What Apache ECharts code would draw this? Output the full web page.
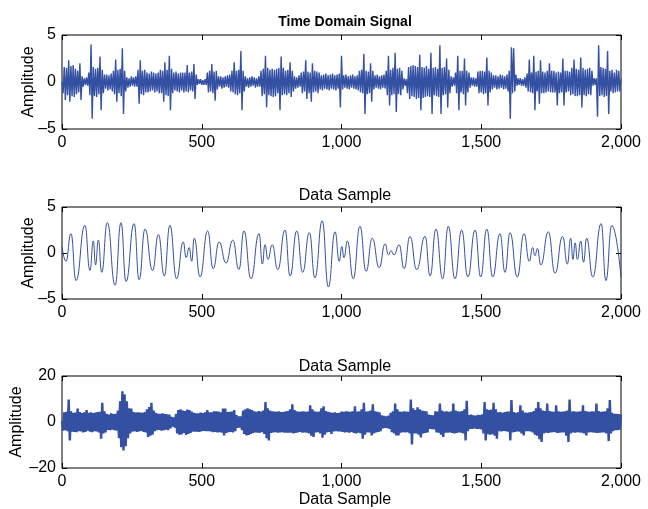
<!DOCTYPE html>
<html>
<head>
<meta charset="utf-8">
<script src="https://cdn.jsdelivr.net/npm/echarts@6/dist/echarts.min.js"></script>
<style>
html,body{margin:0;padding:0;background:#fff;}
#chart{width:648px;height:509px;}
</style>
</head>
<body>
<div id="chart"></div>
<script>
// top and bottom panels are read every 4th sample
var sampleStep = 4;

// top panel: time domain signal (bursty)
var timeSignal = [
  0, -1.2, 1.6, -1.9, 1.5, -1.4, 2.3, -2.1, 1.7, -1.5,
  1.8, -1.6, 1.4, -1.3, 1.2, -1.1, 2.0, -1.9, 0.6, -0.5,
  0.4, -0.3, 0.5, -0.4, 1.0, -1.4, 4.0, -3.9, 1.6, -1.5,
  1.4, -1.6, 1.5, -1.3, 2.7, -3.0, 1.3, -1.2, 0.8, -0.7,
  0.8, -0.9, 0.7, -0.8, 0.9, -1.0, 1.2, -1.3, 2.4, -2.1,
  1.3, -1.2, 1.4, -1.5, 3.6, -3.4, 1.2, -1.0, 0.5, -0.6,
  0.4, -0.5, 0.6, -0.4, 0.5, -0.5, 0.6, -0.5, 1.3, -2.3,
  2.3, -1.3, 1.2, -1.4, 1.3, -1.1, 1.0, -1.1, 0.9, -1.0,
  1.1, -0.9, 1.0, -1.1, 0.9, -1.0, 1.0, -1.2, 1.3, -1.2,
  1.2, -2.1, 2.1, -1.4, 1.3, -1.5, 2.8, -3.0, 1.4, -1.2,
  1.0, -0.9, 1.1, -1.0, 0.9, -1.1, 1.0, -0.9, 1.0, -1.1,
  1.0, -1.0, 1.8, -1.1, 1.0, -0.9, 1.1, -1.0, 1.9, -1.8,
  0.8, -0.3, 0.3, -0.2, 0.3, -0.3, 0.2, -0.3, 0.3, -0.3,
  1.0, -1.1, 1.2, -1.0, 1.9, -1.2, 1.1, -2.0, 1.2, -0.8,
  0.6, -0.5, 0.6, -0.7, 0.5, -0.6, 0.6, -0.5, 0.7, -0.6,
  0.8, -1.0, 1.2, -1.1, 2.1, -1.3, 1.2, -1.4, 1.3, -1.2,
  3.3, -3.0, 1.2, -1.0, 0.6, -0.5, 0.4, -0.6, 0.5, -0.5,
  0.6, -0.4, 0.5, -0.6, 0.4, -0.5, 0.6, -0.5, 1.2, -1.5,
  1.4, -1.3, 2.8, -2.7, 1.5, -1.4, 1.3, -1.5, 1.4, -1.6,
  1.3, -1.5, 1.4, -1.2, 1.5, -3.0, 2.7, -1.4, 1.5, -1.3,
  1.2, -1.4, 1.3, -1.2, 2.1, -1.6, 1.2, -1.0, 0.6, -0.7,
  0.5, -0.6, 0.7, -0.5, 1.0, -1.2, 1.1, -1.0, 2.3, -1.8,
  1.1, -1.2, 1.0, -2.1, 2.0, -1.1, 1.2, -1.0, 1.1, -1.2,
  1.0, -0.8, 0.7, -0.9, 0.8, -0.7, 0.9, -0.8, 0.7, -0.9,
  0.8, -0.7, 0.9, -0.8, 0.7, -0.9, 0.8, -0.7, 0.9, -2.7,
  2.8, -0.8, 0.7, -0.6, 0.8, -0.7, 0.6, -0.8, 0.7, -0.6,
  0.8, -0.7, 0.6, -0.8, 0.7, -0.9, 1.2, -1.1, 1.3, -1.2,
  3.0, -3.4, 1.2, -1.3, 1.1, -1.2, 2.0, -2.1, 1.2, -0.8,
  0.7, -0.6, 0.8, -0.7, 0.6, -0.8, 0.7, -0.6, 0.8, -0.7,
  1.2, -1.4, 2.8, -2.5, 1.3, -1.4, 1.5, -1.3, 3.1, -3.2,
  1.4, -1.3, 1.5, -1.4, 1.2, -0.8, 0.4, -0.4, 0.3, -1.2,
  1.6, -1.8, 1.7, -1.5, 1.8, -1.6, 1.7, -1.8, 1.6, -1.7,
  2.9, -3.0, 1.6, -1.7, 1.5, -1.6, 1.7, -1.5, 1.4, -1.6,
  3.1, -3.4, 1.5, -1.4, 1.6, -1.5, 1.4, -1.6, 3.9, -3.4,
  1.5, -1.4, 1.6, -1.3, 2.5, -2.7, 1.3, -1.2, 0.6, -0.5,
  0.5, -0.4, 1.0, -1.2, 2.8, -3.0, 1.2, -1.1, 1.2, -1.3,
  2.5, -2.5, 1.2, -1.1, 1.0, -0.6, 0.5, -0.4, 0.5, -0.5,
  0.4, -0.5, 1.1, -1.2, 1.2, -1.1, 1.2, -1.3, 1.1, -1.2,
  2.6, -2.5, 1.2, -1.1, 1.0, -0.8, 0.7, -0.6, 0.7, -0.8,
  0.6, -0.7, 0.8, -0.6, 0.7, -0.8, 0.6, -0.7, 0.8, -1.0,
  1.2, -3.9, 3.7, -1.2, 3.6, -1.0, 0.8, -0.4, 0.4, -0.3,
  0.4, -0.4, 0.3, -0.4, 0.5, -0.6, 0.9, -1.0, 2.4, -1.1,
  1.0, -1.2, 2.8, -3.0, 1.1, -1.0, 1.2, -2.3, 2.3, -1.2,
  1.1, -1.2, 1.0, -1.1, 1.2, -1.0, 2.0, -1.1, 1.2, -1.1,
  1.2, -1.1, 1.0, -2.5, 1.1, -1.2, 1.0, -1.1, 2.5, -2.5,
  1.2, -1.1, 1.2, -1.0, 1.1, -1.4, 1.5, -1.3, 2.4, -1.5,
  1.4, -1.5, 1.3, -1.4, 2.6, -2.7, 1.5, -1.4, 1.3, -1.5,
  1.4, -1.3, 1.5, -1.4, 1.2, -0.4, 0.4, -0.3, 0.4, -3.7,
  3.9, -1.5, 1.6, -1.4, 1.5, -1.6, 1.4, -1.5, 3.3, -3.4,
  1.2, -1.0, 1.3, -1.2, 1.0, -1.1, 1.3, -1.0, 1.2, -1.0,
  0.3
];

// middle panel: peaks and troughs of the smooth wave
var waveSamples = [
  0, 14, 32, 50, 82, 100, 112, 120, 130, 142,
  162, 190, 211, 229, 258, 276, 297, 324, 345, 366,
  386, 410, 434, 444, 455, 464, 473, 494, 521, 541,
  562, 587, 611, 633, 651, 676, 705, 717, 726, 737,
  752, 772, 798, 816, 840, 861, 885, 905, 931, 953,
  977, 992, 1001, 1009, 1021, 1042, 1066, 1088, 1110, 1135,
  1156, 1168, 1177, 1188, 1206, 1224, 1245, 1269, 1299, 1317,
  1338, 1362, 1382, 1406, 1430, 1452, 1478, 1498, 1520, 1541,
  1567, 1585, 1603, 1629, 1653, 1672, 1684, 1692, 1701, 1713,
  1740, 1764, 1791, 1808, 1820, 1828, 1836, 1844, 1856, 1866,
  1877, 1899, 1929, 1946, 1967, 2000
];
var waveValues = [
  0.7, -0.9, 2.1, -3.0, 3.0, -1.9, 1.3, -1.3, 1.4, -2.1,
  3.3, -3.5, 3.3, -3.1, 3.2, -2.9, 2.6, -1.9, 2.0, -2.5,
  3.0, -2.8, 1.2, -0.5, 0.6, -0.9, 1.6, -2.6, 2.4, -1.7,
  1.2, -1.1, 1.4, -1.8, 2.4, -2.8, 2.1, -1.2, 0.9, -0.7,
  0.9, -1.8, 2.5, -2.5, 2.4, -2.1, 2.2, -2.7, 3.5, -3.7,
  2.3, -0.9, 0.7, -0.5, 1.3, -2.8, 2.9, -2.0, 1.6, -1.6,
  1.0, -0.2, 0.25, -0.2, 0.9, -1.7, 1.8, -1.8, 1.8, -2.5,
  2.6, -2.8, 2.9, -2.8, 2.5, -2.6, 2.5, -2.6, 2.6, -2.6,
  2.1, -2.1, 2.2, -2.6, 2.1, -0.9, 0.6, -0.3, 0.5, -1.3,
  2.3, -2.2, 1.8, -1.2, 1.6, -0.7, 1.1, -0.7, 1.3, -1.0,
  1.6, -2.6, 3.2, -3.0, 3.0, -2.6
];

// bottom panel: dense noise
var noiseSignal = [
  0.5, -3.8, 4.2, -3.6, 4.4, -4.0, 9.8, -8.0, 4.6, -4.2,
  4.0, -4.3, 4.1, -4.4, 5.8, -4.0, 4.3, -4.1, 3.9, -4.5,
  4.2, -4.3, 5.2, -3.8, 4.0, -4.2, 4.2, -4.4, 3.9, -4.0,
  4.1, -4.1, 4.3, -4.5, 4.4, -7.3, 8.4, -5.0, 4.6, -4.5,
  3.5, -3.4, 3.2, -3.6, 3.8, -3.3, 3.4, -3.5, 3.6, -3.8,
  5.0, -7.0, 9.0, -11.0, 13.4, -12.4, 12.0, -10.5, 9.0, -7.0,
  6.0, -5.0, 5.8, -4.2, 4.3, -4.0, 4.1, -4.3, 4.2, -4.1,
  4.1, -3.9, 4.0, -4.3, 4.3, -4.5, 5.5, -6.5, 6.5, -6.0,
  8.4, -5.5, 5.0, -4.0, 4.0, -3.6, 3.6, -3.4, 3.5, -3.8,
  3.8, -3.5, 3.4, -3.3, 3.3, -3.6, 3.2, -2.8, 2.2, -2.0,
  2.0, -2.4, 3.5, -5.0, 5.2, -5.5, 5.5, -5.4, 5.0, -4.8,
  4.8, -5.6, 5.4, -5.2, 5.2, -4.8, 4.5, -4.2, 4.0, -4.2,
  3.8, -4.2, 3.8, -4.3, 4.1, -4.0, 3.9, -3.9, 4.2, -4.0,
  5.2, -4.0, 4.2, -4.1, 4.2, -4.4, 4.6, -4.3, 4.6, -4.5,
  4.5, -4.4, 4.2, -4.6, 5.8, -5.8, 5.8, -4.8, 4.3, -4.4,
  4.4, -4.3, 4.5, -4.5, 5.2, -4.0, 3.0, -2.6, 2.5, -2.4,
  2.5, -3.5, 5.0, -5.2, 5.5, -5.8, 6.0, -5.6, 5.5, -5.2,
  5.2, -4.8, 4.6, -4.5, 4.4, -4.6, 4.8, -4.7, 4.5, -4.4,
  5.0, -5.2, 8.7, -7.0, 6.0, -8.0, 5.0, -4.8, 4.6, -4.5,
  4.5, -4.4, 4.4, -4.6, 4.6, -4.5, 4.3, -4.4, 4.3, -4.7,
  4.7, -4.6, 4.8, -4.7, 5.5, -4.6, 7.7, -5.0, 5.2, -4.8,
  4.6, -4.5, 4.4, -4.3, 4.5, -4.6, 4.7, -4.5, 4.4, -4.6,
  4.5, -5.0, 7.3, -6.0, 5.5, -6.5, 4.6, -4.5, 4.4, -4.4,
  4.5, -5.0, 6.0, -6.8, 6.8, -5.5, 4.8, -4.5, 4.4, -4.3,
  4.2, -5.2, 4.0, -4.1, 4.2, -4.0, 3.9, -4.1, 4.0, -4.1,
  4.5, -4.3, 4.4, -4.5, 4.6, -4.4, 4.5, -4.6, 4.4, -4.3,
  4.6, -4.8, 6.8, -5.0, 4.5, -4.6, 4.7, -4.9, 5.5, -7.3,
  8.4, -5.5, 4.5, -4.5, 4.6, -4.5, 5.0, -5.8, 7.7, -5.0,
  4.6, -4.5, 4.4, -4.3, 4.2, -4.0, 2.9, -2.8, 2.7, -2.6,
  2.5, -2.7, 2.8, -3.0, 4.0, -4.4, 4.6, -5.0, 8.0, -5.8,
  5.5, -5.8, 4.5, -4.6, 4.4, -4.4, 4.6, -4.5, 4.5, -4.4,
  4.4, -5.0, 9.8, -9.8, 6.0, -5.0, 5.2, -5.0, 6.4, -5.5,
  5.5, -6.7, 5.0, -5.0, 4.8, -4.8, 4.6, -4.5, 3.2, -3.0,
  3.0, -3.1, 2.9, -3.2, 4.6, -4.5, 4.5, -4.6, 8.0, -5.5,
  5.0, -6.5, 4.5, -4.6, 4.6, -4.6, 4.4, -4.5, 4.6, -4.8,
  8.0, -5.0, 5.0, -4.8, 4.6, -4.5, 4.5, -4.6, 4.8, -5.0,
  5.5, -8.0, 9.2, -4.0, 3.0, -3.0, 3.2, -3.0, 2.9, -2.8,
  2.8, -3.0, 3.1, -3.0, 3.0, -3.2, 3.3, -5.0, 8.7, -8.0,
  5.5, -5.3, 5.2, -5.5, 5.4, -5.3, 8.3, -6.0, 5.5, -7.3,
  4.2, -4.0, 4.3, -4.1, 4.0, -3.9, 4.3, -4.0, 4.5, -4.2,
  4.5, -8.0, 9.5, -4.5, 4.3, -4.3, 4.0, -4.1, 4.2, -4.2,
  7.3, -5.0, 5.0, -5.8, 4.1, -4.0, 4.0, -4.0, 4.2, -4.1,
  4.3, -4.5, 4.8, -5.5, 6.0, -6.0, 8.7, -7.5, 6.0, -8.7,
  5.0, -5.0, 4.8, -4.6, 8.0, -4.8, 4.8, -4.5, 4.5, -4.4,
  4.4, -4.4, 7.3, -4.8, 4.6, -4.6, 4.4, -4.5, 4.5, -4.5,
  4.6, -6.0, 5.0, -8.7, 9.8, -5.0, 4.5, -4.5, 4.6, -4.6,
  4.4, -4.4, 4.5, -4.5, 4.6, -4.6, 7.3, -5.0, 4.8, -5.8,
  4.5, -4.5, 4.4, -4.4, 4.6, -4.5, 4.5, -4.6, 8.0, -4.8,
  4.8, -4.6, 4.4, -4.5, 4.5, -4.5, 4.6, -5.0, 6.0, -8.3,
  9.5, -5.0, 4.0, -4.0, 3.6, -3.6, 3.5, -3.5, 3.4, -3.3,
  3.2
];

var titles = ['Time Domain Signal', 'Data Sample', 'Data Sample'];
var xName = 'Data Sample';
var yName = 'Amplitude';

var lineColor = '#3450a2';
var font = 'Liberation Sans, Arial, Helvetica, sans-serif';

function stepped(values, step) {
  var out = [];
  for (var i = 0; i < values.length; i++) out.push([i * step, values[i]]);
  return out;
}
function paired(xs, ys) {
  var out = [];
  for (var i = 0; i < xs.length; i++) out.push([xs[i], ys[i]]);
  return out;
}
function minusFmt(v) {
  return v < 0 ? '\u2013' + Math.abs(v) : String(v);
}

var grids = [
  {left: 62, top: 35, width: 559, height: 94},
  {left: 62, top: 207, width: 559, height: 92},
  {left: 62, top: 376, width: 559, height: 92}
];
grids.forEach(function (g) {
  g.show = true; g.borderColor = '#000'; g.borderWidth = 1; g.backgroundColor = 'transparent';
  g.outerBoundsMode = 'none'; g.containLabel = false;
});

var xAxes = [], yAxes = [];
var yRange = [[-5, 5, 5, 25], [-5, 5, 5, 25], [-20, 20, 20, 37]];
for (var g = 0; g < 3; g++) {
  ['bottom', 'top'].forEach(function (pos) {
    xAxes.push({
      type: 'value', gridIndex: g, position: pos, min: 0, max: 2000, interval: 500,
      axisLine: {show: false, onZero: false},
      axisTick: {inside: true, length: 5, lineStyle: {color: '#000'}},
      axisLabel: {show: pos === 'bottom', margin: 6, color: '#000', fontSize: 16, fontFamily: font,
        formatter: function (v) { return v.toLocaleString('en-US'); }},
      splitLine: {show: false}
    });
  });
  ['left', 'right'].forEach(function (pos) {
    yAxes.push({
      type: 'value', gridIndex: g, position: pos,
      min: yRange[g][0], max: yRange[g][1], interval: yRange[g][2],
      name: pos === 'left' ? yName : '', nameLocation: 'middle', nameGap: yRange[g][3],
      nameMoveOverlap: false,
      nameTextStyle: {color: '#000', fontSize: 16, fontFamily: font},
      axisLine: {show: false, onZero: false},
      axisTick: {inside: true, length: 5, lineStyle: {color: '#000'}},
      axisLabel: {show: pos === 'left', margin: 6, color: '#000', fontSize: 16, fontFamily: font, formatter: minusFmt},
      splitLine: {show: false}
    });
  });
}

var option = {
  animation: false,
  backgroundColor: '#fff',
  title: [
    {text: titles[0], left: 340, top: 10, textAlign: 'center',
      textStyle: {fontSize: 14, fontWeight: 'bold', color: '#000', fontFamily: font}},
    {text: titles[1], left: 340, top: 183, textAlign: 'center',
      textStyle: {fontSize: 16, fontWeight: 'normal', color: '#000', fontFamily: font}},
    {text: titles[2], left: 340, top: 354, textAlign: 'center',
      textStyle: {fontSize: 16, fontWeight: 'normal', color: '#000', fontFamily: font}},
    {text: xName, left: 340, top: 487, textAlign: 'center',
      textStyle: {fontSize: 16, fontWeight: 'normal', color: '#000', fontFamily: font}}
  ],
  grid: grids,
  xAxis: xAxes,
  yAxis: yAxes,
  series: [
    {type: 'line', xAxisIndex: 0, yAxisIndex: 0, data: stepped(timeSignal, sampleStep), showSymbol: false,
      lineStyle: {color: lineColor, width: 1.4}},
    {type: 'line', xAxisIndex: 2, yAxisIndex: 2, data: paired(waveSamples, waveValues), showSymbol: false,
      smooth: 0.5, smoothMonotone: 'x', lineStyle: {color: lineColor, width: 1}},
    {type: 'line', xAxisIndex: 4, yAxisIndex: 4, data: stepped(noiseSignal, sampleStep), showSymbol: false,
      lineStyle: {color: lineColor, width: 2.4}}
  ]
};

var chart = echarts.init(document.getElementById('chart'));
chart.setOption(option);
</script>
</body>
</html>
